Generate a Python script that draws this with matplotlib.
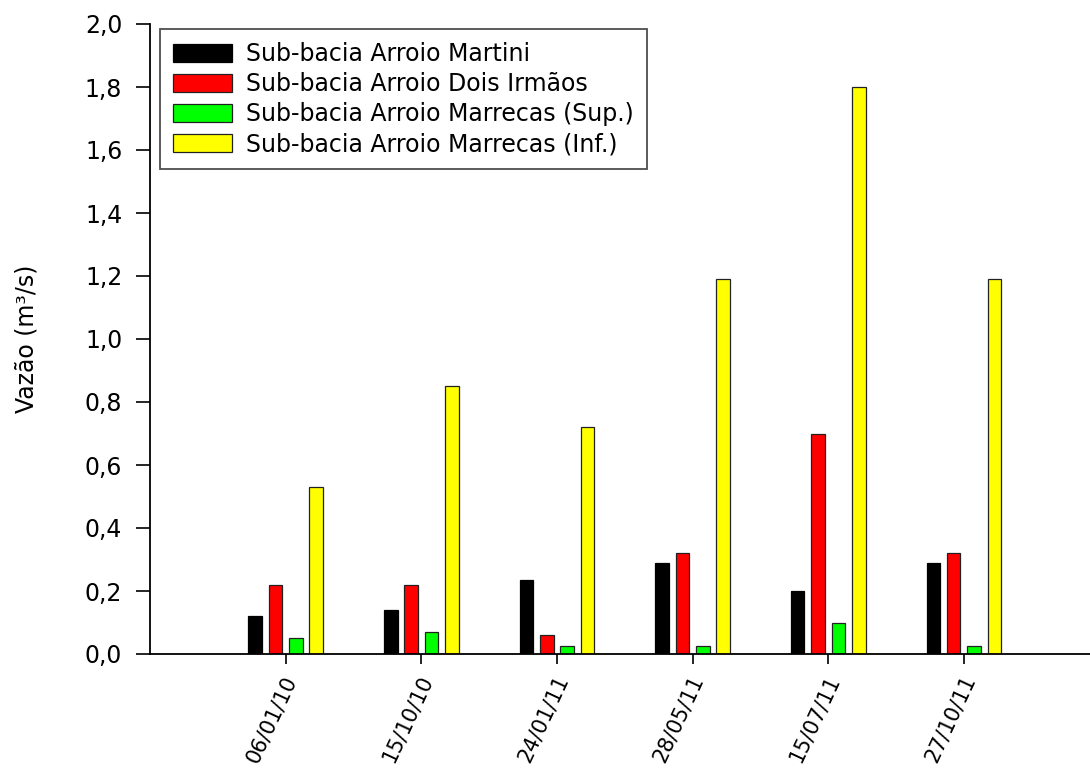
import numpy as np
import matplotlib
matplotlib.use("Agg")
import matplotlib.pyplot as plt
from matplotlib.ticker import FuncFormatter, MultipleLocator
from matplotlib.transforms import ScaledTranslation

plt.rcParams['font.family'] = ['DejaVu Sans']

dates = ["06/01/10", "15/10/10", "24/01/11", "28/05/11", "15/07/11", "27/10/11"]
series_names = [
    "Sub-bacia Arroio Martini",
    "Sub-bacia Arroio Dois Irmãos",
    "Sub-bacia Arroio Marrecas (Sup.)",
    "Sub-bacia Arroio Marrecas (Inf.)",
]
martini = [0.12, 0.14, 0.235, 0.29, 0.20, 0.29]
dois_irmaos = [0.22, 0.22, 0.06, 0.32, 0.70, 0.32]
marrecas_sup = [0.05, 0.07, 0.025, 0.026, 0.10, 0.026]
marrecas_inf = [0.53, 0.85, 0.72, 1.19, 1.80, 1.19]
colors = ["#000000", "#ff0000", "#00ff00", "#ffff00"]

FS = 17

fig = plt.figure(figsize=(10.9, 7.76), dpi=100)
ax = fig.add_axes([150/1090, 122/776, 940/1090, 630/776])

x = np.arange(len(dates))
pitch = 0.15
width = 0.10
for i, (vals, c, name) in enumerate(zip([martini, dois_irmaos, marrecas_sup, marrecas_inf], colors, series_names)):
    ax.bar(x + (i - 1.5) * pitch, vals, width=width, color=c,
           edgecolor="#000000" if i == 0 else "#222222", linewidth=0.9, label=name)

ax.set_xlim(-1, 5.93)
ax.set_ylim(0, 2.0)
ax.yaxis.set_major_locator(MultipleLocator(0.2))
ax.yaxis.set_major_formatter(FuncFormatter(lambda v, p: f"{v:.1f}".replace(".", ",")))

ax.spines['top'].set_visible(False)
ax.spines['right'].set_visible(False)
ax.spines['left'].set_linewidth(1.3)
ax.spines['bottom'].set_linewidth(1.3)
ax.tick_params(axis='y', direction='out', length=10, width=1.2, labelsize=FS, pad=10)
ax.tick_params(axis='x', direction='out', length=7, width=1.2, labelsize=15, pad=2)

ax.set_xticks(x)
ax.set_xticklabels(dates, rotation=65, ha="right", va="center", rotation_mode="anchor")
for lab in ax.get_xticklabels():
    lab.set_transform(lab.get_transform() + ScaledTranslation(0.06, -0.10, fig.dpi_scale_trans))

ax.set_ylabel("Vazão (m³/s)", fontsize=FS, labelpad=33)

leg = ax.legend(loc="upper left", bbox_to_anchor=(10/940, 1 - 5/630), fontsize=FS,
                frameon=True, fancybox=False, shadow=False, handlelength=2.5,
                handleheight=0.8, handletextpad=0.6, labelspacing=0.26,
                borderpad=0.55, borderaxespad=0)
leg.get_frame().set_edgecolor("#222222")
leg.get_frame().set_linewidth(1.3)

fig.savefig("out.png", dpi=100)
